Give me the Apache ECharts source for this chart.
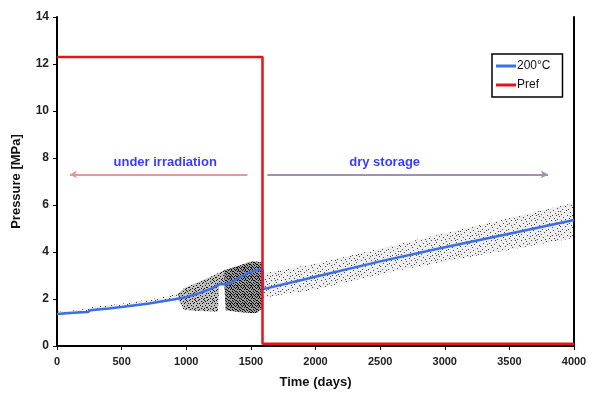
<!DOCTYPE html>
<html><head><meta charset="utf-8">
<script src="https://cdn.jsdelivr.net/npm/echarts@6/dist/echarts.min.js"></script>
<style>html,body{margin:0;padding:0;background:#fff}#c{width:595px;height:396px}</style>
</head><body><div id="c"></div>
<script>
// ---- data ----
const blueDays = [0, 100, 200, 240, 260, 400, 500, 700, 900, 1000, 1100, 1200, 1264, 1300, 1341, 1400, 1470, 1568, 1590, 1595, 1600, 2000, 2500, 3000, 3500, 4000];
const blueVals = [1.36, 1.40, 1.44, 1.45, 1.52, 1.60, 1.66, 1.80, 1.98, 2.08, 2.25, 2.45, 2.64, 2.62, 2.67, 2.88, 3.09, 3.26, 3.28, 2.42, 2.45, 2.95, 3.60, 4.20, 4.78, 5.36];
const prefDays = [0, 1590, 1590, 4000];
const prefVals = [12.3, 12.3, 0.1, 0.1];

// scatter cloud envelopes (lower / upper) per period
const preDays  = [0, 100, 250, 260, 400, 500, 600, 700, 800, 900, 960];
const preLow   = [1.32, 1.36, 1.44, 1.50, 1.58, 1.64, 1.72, 1.80, 1.88, 1.94, 1.97];
const preHigh  = [1.46, 1.50, 1.60, 1.66, 1.74, 1.80, 1.89, 1.97, 2.06, 2.18, 2.28];
const midDays  = [940, 980, 1050, 1150, 1245, 1255, 1296];
const midLow   = [1.95, 1.55, 1.50, 1.48, 1.46, 2.60, 2.60];
const midHigh  = [2.25, 2.45, 2.62, 2.85, 3.10, 3.12, 3.25];
const darkDays = [1295, 1305, 1400, 1500, 1545, 1588];
const darkLow  = [2.60, 1.52, 1.45, 1.40, 1.40, 1.60];
const darkHigh = [3.25, 3.25, 3.40, 3.60, 3.60, 3.55];
const postDays = [1595, 1700, 2000, 2500, 3000, 3500, 4000];
const postLow  = [2.05, 2.15, 2.40, 3.05, 3.60, 4.10, 4.60];
const postHigh = [3.10, 3.20, 3.50, 4.15, 4.80, 5.45, 6.10];

// annotations
const irrArrowDays = [1473, 100];
const dryArrowDays = [1628, 3798];
const arrowLevel = 7.3;
const textLevel = 7.8;
const textDays = [837, 2535];
const textLabels = ['under irradiation', 'dry storage'];

// x / y axis ticks
const xMin = 0, xMax = 4000, xStep = 500;
const yMin = 0, yMax = 14, yStep = 2;

// ---- helpers ----
const zip = (a, b) => a.map((v, i) => [v, b[i]]);

function tile(w, h, dots, color, bg) {
  const c = document.createElement('canvas');
  c.width = w; c.height = h;
  const g = c.getContext('2d');
  if (bg) { g.fillStyle = bg; g.fillRect(0, 0, w, h); }
  g.fillStyle = color;
  dots.forEach(([x, y]) => g.fillRect(x, y, 1, 1));
  return c;
}
const lightDots = [[1,0],[6,1],[11,0],[16,2],[3,3],[9,3],[14,4],[19,5],[0,6],[5,6],[12,7],[17,8],[2,9],[8,9],[13,10],[18,11],[4,12],[10,12],[15,13],[1,14],[7,15],[12,15],[19,16],[3,17],[9,18],[14,18],[17,19],[5,19],[0,11],[11,5],[6,10],[16,15],[7,4],[15,0],[18,14],[10,16]];
const denseDots = [[0,0],[2,1],[4,0],[1,3],[3,2],[5,3],[0,5],[2,4],[4,5],[1,6],[3,6],[5,6],[6,1],[6,4],[2,7],[5,8],[0,8],[3,8],[6,7],[1,1],[4,3],[6,6]];
const midDots = [[0,0],[3,1],[6,0],[1,3],[5,2],[8,3],[2,5],[7,5],[4,6],[0,7],[6,8],[3,8],[8,7],[1,9],[5,9],[4,3],[7,1]];
const lightTile = tile(20, 20, lightDots, 'rgba(0,0,0,0.7)', 'rgba(0,0,0,0.07)');
const midTile = tile(9, 10, midDots, 'rgba(0,0,0,0.9)', 'rgba(0,0,0,0.25)');
const darkTile = tile(7, 9, denseDots, 'rgba(0,0,0,0.95)', 'rgba(0,0,0,0.4)');

function band(name, days, lo, hi, img) {
  return {
    type: 'custom', name: name, silent: true, z: 1,
    data: days.map((d, i) => [d, lo[i], hi[i]]),
    encode: { x: 0, y: [1, 2] },
    renderItem: (params, api) => {
      if (params.dataIndex !== 0) return null;
      const top = days.map((d, i) => api.coord([d, hi[i]]));
      const bot = days.map((d, i) => api.coord([d, lo[i]])).reverse();
      return { type: 'polygon', shape: { points: top.concat(bot) },
        style: { fill: { image: img, repeat: 'repeat' }, stroke: null } };
    }
  };
}

const font = '"Liberation Sans", Arial, sans-serif';
const chart = echarts.init(document.getElementById('c'), null, { renderer: 'canvas' });
chart.setOption({
  animation: false,
  backgroundColor: '#fff',
  grid: { left: 57, right: 21, top: 17, bottom: 50 },
  legend: {
    data: ['200°C', 'Pref'], orient: 'vertical', left: 492, top: 54,
    icon: 'rect', itemWidth: 20, itemHeight: 3, itemGap: 7,
    padding: [6, 12, 6, 4], borderColor: '#000', borderWidth: 1.5,
    textStyle: { fontFamily: font, fontSize: 12, color: '#111', padding: [0, 0, 0, -4] }
  },
  xAxis: {
    type: 'value', min: xMin, max: xMax, interval: xStep,
    name: 'Time (days)', nameLocation: 'middle', nameGap: 30,
    nameTextStyle: { fontFamily: font, fontSize: 13, fontWeight: 'bold', color: '#111' },
    axisLine: { lineStyle: { color: '#000', width: 2 } },
    axisTick: { length: 4, lineStyle: { color: '#000', width: 1 } },
    axisLabel: { fontFamily: font, fontSize: 11, fontWeight: 'bold', color: '#222', margin: 10,
      formatter: v => String(v) },
    splitLine: { show: false }
  },
  yAxis: [{
    type: 'value', min: yMin, max: yMax, interval: yStep,
    name: 'Pressure [MPa]', nameLocation: 'middle', nameGap: 34, nameRotate: 90,
    nameTextStyle: { fontFamily: font, fontSize: 13, fontWeight: 'bold', color: '#111' },
    axisLine: { show: true, lineStyle: { color: '#000', width: 2 } },
    axisTick: { show: true, length: 4, lineStyle: { color: '#000', width: 1 } },
    axisLabel: { fontFamily: font, fontSize: 12, fontWeight: 'bold', color: '#222', margin: 8,
      formatter: v => String(v) },
    splitLine: { show: false }
  }, {
    type: 'value', position: 'right', min: yMin, max: yMax, interval: yStep,
    axisLine: { show: true, lineStyle: { color: '#000', width: 2 } },
    axisTick: { show: false }, axisLabel: { show: false }, splitLine: { show: false }
  }],
  series: [
    band('pre', preDays, preLow, preHigh, lightTile),
    band('mid', midDays, midLow, midHigh, midTile),
    band('dark', darkDays, darkLow, darkHigh, darkTile),
    band('post', postDays, postLow, postHigh, lightTile),
    { type: 'line', name: '200°C', data: zip(blueDays, blueVals), symbol: 'none', z: 5,
      lineStyle: { color: '#3b6fe3', width: 2.5 }, itemStyle: { color: '#3b6fe3' } },
    { type: 'line', name: 'Pref', data: zip(prefDays, prefVals), symbol: 'none', z: 6,
      lineStyle: { color: '#e3141c', width: 2.5 }, itemStyle: { color: '#e3141c' } },
    { type: 'scatter', name: 'notes', data: textDays.map((d, i) => ({ value: [d, textLevel], name: textLabels[i] })),
      symbolSize: 0, z: 7, silent: true,
      label: { show: true, position: 'inside', formatter: p => p.name,
        fontFamily: font, fontSize: 13, fontWeight: 'bold', color: '#0808ff' },
      markLine: {
        silent: true, symbol: ['none', 'arrow'], symbolSize: [6, 7],
        label: { show: false },
        data: [
          [{ coord: [irrArrowDays[0], arrowLevel], lineStyle: { color: '#e2999d', width: 2, type: 'solid' } }, { coord: [irrArrowDays[1], arrowLevel] }],
          [{ coord: [dryArrowDays[0], arrowLevel], lineStyle: { color: '#a48fae', width: 2, type: 'solid' } }, { coord: [dryArrowDays[1], arrowLevel] }]
        ]
      }
    }
  ]
});
</script>
</body></html>
